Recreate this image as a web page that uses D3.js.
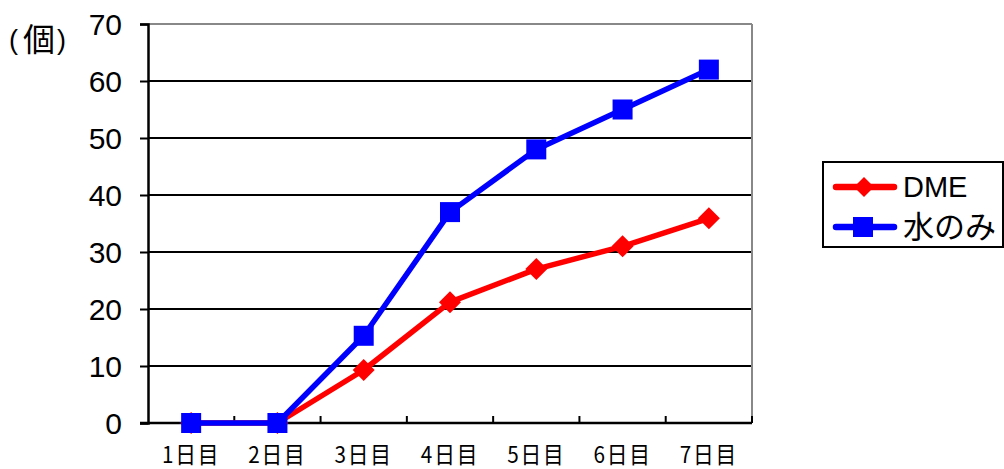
<!DOCTYPE html>
<html><head><meta charset="utf-8">
<script src="https://cdn.jsdelivr.net/npm/d3@7"></script>
<style>body{margin:0;background:#fff}svg{display:block}</style>
</head><body>
<svg id="chart" width="1004" height="469"></svg>
<script>
// Cumulative counts per day for the two treatments
const days = ["1日目","2日目","3日目","4日目","5日目","6日目","7日目"];
const dmeValues = [0, 0, 9.3, 21.2, 27, 31, 35.9];
const waterValues = [0, 0, 15.3, 37, 48, 55, 62];
const yTicks = [0, 10, 20, 30, 40, 50, 60, 70];
const seriesNames = ["DME", "水のみ"];

(function () {
const svg = d3.select("#chart");
const plotL = 148, plotR = 752, plotT = 24, plotB = 423;
const latin = "Liberation Sans, Arial, sans-serif";
const cjk = "Noto Sans CJK JP, sans-serif";

const x = d3.scaleBand().domain(days).range([plotL, plotR]);
const y = d3.scaleLinear().domain([0, 70]).range([plotB, plotT]);
const cx = d => x(d) + x.bandwidth() / 2;

// diamond marker of given half-diagonal
const diamond = r => `M0,${-r}L${r},0L0,${r}L${-r},0Z`;

// horizontal gridlines
svg.append("g").selectAll("line").data(yTicks.filter(t => t > 0 && t < 70)).join("line")
  .attr("x1", plotL).attr("x2", plotR)
  .attr("y1", d => y(d)).attr("y2", d => y(d))
  .attr("stroke", "#000").attr("stroke-width", 2);

// top and right frame (grey)
svg.append("line").attr("x1", plotL).attr("x2", plotR).attr("y1", y(70)).attr("y2", y(70))
  .attr("stroke", "#888").attr("stroke-width", 2);
svg.append("line").attr("x1", plotR).attr("x2", plotR).attr("y1", plotT).attr("y2", plotB)
  .attr("stroke", "#888").attr("stroke-width", 2);

// y axis
const yAxis = svg.append("g").attr("transform", `translate(${plotL},0)`)
  .call(d3.axisLeft(y).tickValues(yTicks).tickSize(8).tickPadding(18));
yAxis.select(".domain").attr("stroke", "#000").attr("stroke-width", 2.5);
yAxis.selectAll(".tick line").attr("stroke", "#000").attr("stroke-width", 2);
yAxis.selectAll(".tick text").attr("font-family", latin)
  .attr("font-size", 30).attr("fill", "#000").attr("dy", "0.36em");

// x axis with ticks between categories, pointing up into the plot
const boundaries = d3.range(days.length + 1).map(i => plotL + i * x.step());
svg.append("g").selectAll("line").data(boundaries.slice(1)).join("line")
  .attr("x1", d => d).attr("x2", d => d).attr("y1", plotB).attr("y2", plotB - 7)
  .attr("stroke", "#000").attr("stroke-width", 2);
svg.append("line").attr("x1", plotL - 8).attr("x2", plotR).attr("y1", plotB).attr("y2", plotB)
  .attr("stroke", "#000").attr("stroke-width", 2.5);

// category labels
svg.append("g").selectAll("text").data(days).join("text")
  .attr("transform", d => `translate(${cx(d)},463) scale(0.9,1)`)
  .attr("text-anchor", "middle")
  .attr("font-family", cjk)
  .attr("font-size", 23).attr("letter-spacing", 2).attr("fill", "#000")
  .text(d => d);

// unit label (個)
const unit = svg.append("g").attr("font-family", cjk).attr("fill", "#000");
unit.append("text").attr("x", 9).attr("y", 49).attr("font-size", 27).attr("font-family", latin).text("(");
unit.append("text").attr("x", 23).attr("y", 51).attr("font-size", 32).text("個");
unit.append("text").attr("x", 57).attr("y", 49).attr("font-size", 27).attr("font-family", latin).text(")");

const line = d3.line().x((d, i) => cx(days[i])).y(d => y(d));

// series lines: DME below, water on top
svg.append("path").datum(dmeValues).attr("d", line)
  .attr("fill", "none").attr("stroke", "#ff0000").attr("stroke-width", 5.5).attr("stroke-linejoin", "round");
svg.append("g").selectAll("path").data(dmeValues).join("path")
  .attr("d", diamond(11))
  .attr("transform", (d, i) => `translate(${cx(days[i])},${y(d)})`)
  .attr("fill", "#ff0000");

svg.append("path").datum(waterValues).attr("d", line)
  .attr("fill", "none").attr("stroke", "#0000ff").attr("stroke-width", 5.5).attr("stroke-linejoin", "round");
svg.append("g").selectAll("rect").data(waterValues).join("rect")
  .attr("x", (d, i) => cx(days[i]) - 10)
  .attr("y", d => y(d) - 10).attr("width", 20).attr("height", 20)
  .attr("fill", "#0000ff");

// legend
const lg = svg.append("g");
lg.append("rect").attr("x", 823).attr("y", 162).attr("width", 180).attr("height", 85)
  .attr("fill", "#fff").attr("stroke", "#000").attr("stroke-width", 2);
const colors = ["#ff0000", "#0000ff"];
seriesNames.forEach((name, i) => {
  const cy = 187 + i * 40;
  lg.append("line").attr("x1", 836).attr("x2", 894).attr("y1", cy).attr("y2", cy)
    .attr("stroke", colors[i]).attr("stroke-width", 6.5).attr("stroke-linecap", "round");
  if (i === 0) {
    lg.append("path").attr("d", diamond(10))
      .attr("transform", `translate(864,${cy})`).attr("fill", colors[i]);
  } else {
    lg.append("rect").attr("x", 853).attr("y", cy - 10).attr("width", 20).attr("height", 20).attr("fill", colors[i]);
  }
  lg.append("text").attr("x", 903).attr("y", cy + (i === 0 ? 10 : 11))
    .attr("font-family", i === 0 ? latin : cjk)
    .attr("font-size", i === 0 ? 29 : 31).attr("fill", "#000").text(name);
});
})();
</script>
</body></html>
